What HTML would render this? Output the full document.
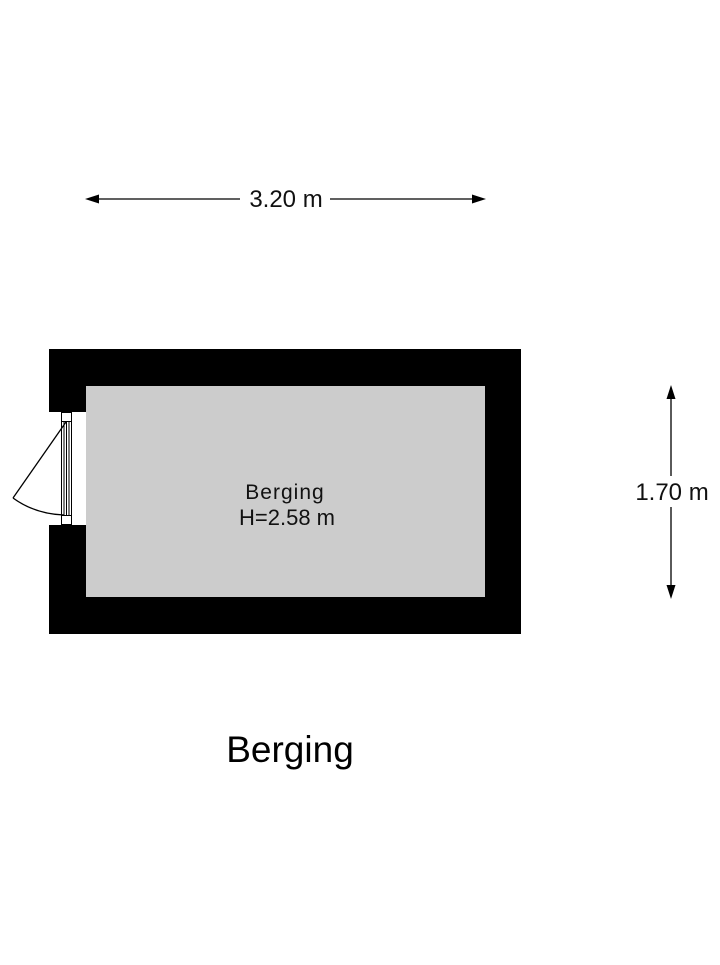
<!DOCTYPE html>
<html><head><style>
html,body{margin:0;padding:0;background:#fff;}
body{width:720px;height:960px;overflow:hidden;}
</style></head><body>
<svg width="720" height="960" viewBox="0 0 720 960" xmlns="http://www.w3.org/2000/svg" font-family="Liberation Sans, Arial, sans-serif">
<rect width="720" height="960" fill="#fff"/>
<rect x="49" y="349" width="472" height="285" fill="#000"/>
<rect x="86" y="386" width="399" height="211" fill="#cccccc"/>
<rect x="49" y="412" width="37" height="113" fill="#fff"/>
<rect x="86" y="412" width="1" height="113" fill="#cccccc"/>
<g stroke="#000" stroke-width="1" fill="none">
<rect x="61.5" y="412.5" width="10" height="112"/>
<line x1="61.5" y1="421.5" x2="71.5" y2="421.5"/>
<line x1="61.5" y1="515.5" x2="71.5" y2="515.5"/>
<line x1="64" y1="421.5" x2="64" y2="515.5"/>
<line x1="66.5" y1="421.5" x2="66.5" y2="515.5"/>
<line x1="69" y1="421.5" x2="69" y2="515.5"/>
<line x1="66" y1="422" x2="13" y2="498" stroke-width="1.3"/>
<path d="M13 498 Q35 514 64 515" stroke-width="1.3"/>
</g>
<text x="285" y="499" font-size="21" letter-spacing="1" text-anchor="middle" fill="#111">Berging</text>
<text x="287" y="525" font-size="22" text-anchor="middle" fill="#111">H=2.58 m</text>
<text x="290" y="762" font-size="37" text-anchor="middle" fill="#000">Berging</text>
<line x1="92" y1="199" x2="240" y2="199" stroke="#000" stroke-width="1.3"/>
<line x1="330" y1="199" x2="478" y2="199" stroke="#000" stroke-width="1.3"/>
<polygon points="85,199 99,194.5 99,203.5" fill="#000"/>
<polygon points="486,199 472,194.5 472,203.5" fill="#000"/>
<text x="286" y="207" font-size="24" text-anchor="middle" fill="#111">3.20 m</text>
<line x1="671" y1="392" x2="671" y2="476" stroke="#000" stroke-width="1.3"/>
<line x1="671" y1="507" x2="671" y2="592" stroke="#000" stroke-width="1.3"/>
<polygon points="671,385 666.5,399 675.5,399" fill="#000"/>
<polygon points="671,599 666.5,585 675.5,585" fill="#000"/>
<text x="672" y="500" font-size="24" text-anchor="middle" fill="#111">1.70 m</text>
</svg>
</body></html>
